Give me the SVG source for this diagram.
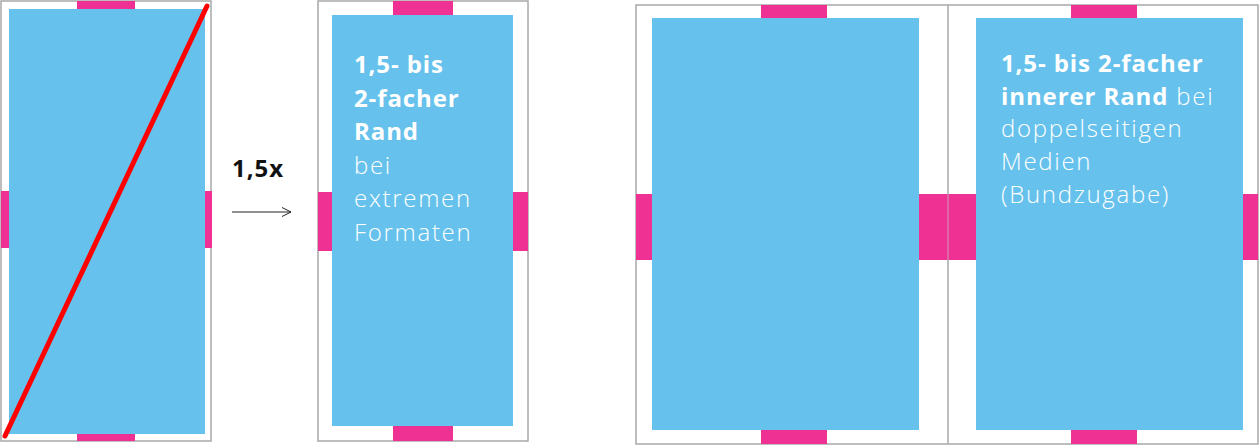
<svg xmlns="http://www.w3.org/2000/svg" width="1260" height="446" viewBox="0 0 1260 446">
<style>
.frame{fill:#fff;stroke:#a8a8a8;stroke-width:1.5}
.page{fill:#66c2ec}
.mark{fill:#ee3192}
.t{font-family:"Open Sans","Noto Sans","Liberation Sans",sans-serif;font-size:24px;fill:#fff}
.b{font-weight:700;letter-spacing:0.9px}
.l{font-weight:300;letter-spacing:1.7px}
</style>
<defs>
<marker id="arr" viewBox="0 0 10 10" refX="10" refY="5" markerWidth="10" markerHeight="10" markerUnits="userSpaceOnUse" orient="auto">
<path d="M1,0.5 L10,5 L1,9.5" fill="none" stroke="#222" stroke-width="1"/>
</marker>
</defs>
<rect width="1260" height="446" fill="#fff"/>
<g id="panel-wrong">
<rect class="frame" x="1" y="1" width="210" height="440"/>
<rect class="page" x="9" y="9" width="196" height="425"/>
<rect class="mark" x="77" y="1" width="58" height="8"/>
<rect class="mark" x="77" y="434" width="58" height="7"/>
<rect class="mark" x="1" y="191" width="8" height="57"/>
<rect class="mark" x="205" y="191" width="7" height="57"/>
<line x1="5" y1="436" x2="207" y2="6" stroke="#ff0000" stroke-width="5" stroke-linecap="round"/>
</g>
<g id="label-factor">
<text x="232" y="177" font-family="'Open Sans','Noto Sans','Liberation Sans',sans-serif" font-size="24" font-weight="700" letter-spacing="1" fill="#111">1,5x</text>
</g>
<g id="connectors">
<line x1="232" y1="212" x2="291" y2="212" stroke="#222" stroke-width="1" marker-end="url(#arr)"/>
</g>
<g id="panel-single">
<rect class="frame" x="318" y="1" width="210" height="440"/>
<rect class="page" x="332" y="15" width="181" height="411"/>
<rect class="mark" x="393" y="1" width="60" height="14"/>
<rect class="mark" x="393" y="426" width="60" height="15"/>
<rect class="mark" x="318" y="192" width="14" height="59"/>
<rect class="mark" x="513" y="192" width="15" height="59"/>
<text class="t" x="354" y="73"><tspan class="b">1,5- bis</tspan><tspan class="b" x="354" dy="33.5">2-facher</tspan><tspan class="b" x="354" dy="33.5">Rand</tspan><tspan class="l" x="354" dy="33.5">bei</tspan><tspan class="l" x="354" dy="33.5">extremen</tspan><tspan class="l" x="354" dy="33.5">Formaten</tspan></text>
</g>
<g id="panel-double">
<rect class="frame" x="636" y="5" width="622" height="439"/>
<line x1="948" y1="5" x2="948" y2="444" stroke="#a8a8a8" stroke-width="1.5"/>
<rect class="page" x="652" y="18" width="267" height="412"/>
<rect class="page" x="976" y="18" width="267" height="412"/>
<rect class="mark" x="761" y="5" width="66" height="13"/>
<rect class="mark" x="761" y="430" width="66" height="14"/>
<rect class="mark" x="1071" y="5" width="66" height="13"/>
<rect class="mark" x="1071" y="430" width="66" height="14"/>
<rect class="mark" x="636" y="194" width="16" height="66"/>
<rect class="mark" x="919" y="194" width="57" height="66"/>
<line x1="948" y1="194" x2="948" y2="260" stroke="#c8a0b8" stroke-width="1"/>
<rect class="mark" x="1243" y="194" width="15" height="66"/>
<text class="t" x="1001" y="72"><tspan class="b">1,5- bis 2-facher</tspan><tspan class="b" x="1001" dy="32.7">innerer Rand</tspan><tspan class="l"> bei</tspan><tspan class="l" x="1001" dy="32.7">doppelseitigen</tspan><tspan class="l" x="1001" dy="32.7">Medien</tspan><tspan class="l" x="1001" dy="32.7">(Bundzugabe)</tspan></text>
</g>
</svg>
